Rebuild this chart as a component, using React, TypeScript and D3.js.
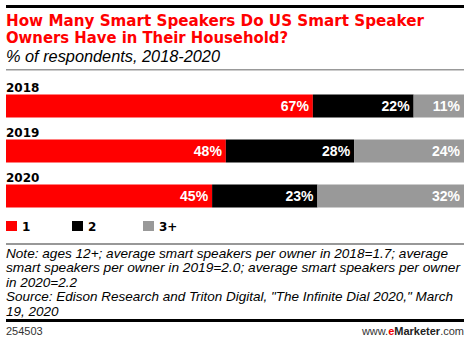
import React from "react";
import * as d3 from "d3";

const years = ["2018", "2019", "2020"];
const seriesNames = ["1", "2", "3+"];
const seriesColors = ["#ff0000", "#000000", "#999999"];
const one = [67, 48, 45];
const two = [22, 28, 23];
const threePlus = [11, 24, 32];

const title1 = "How Many Smart Speakers Do US Smart Speaker";
const title2 = "Owners Have in Their Household?";
const subtitle = "% of respondents, 2018-2020";
const noteLines = [
  "Note: ages 12+; average smart speakers per owner in 2018=1.7; average",
  "smart speakers per owner in 2019=2.0; average smart speakers per owner",
  "in 2020=2.2",
  "Source: Edison Research and Triton Digital, \"The Infinite Dial 2020,\" March",
  "19, 2020",
];
const noteWidths = [442, 454, 0, 447, 0];

export default function App() {
  const W = 470, H = 342;
  const left = 6, right = 464;
  const x = d3.scaleLinear().domain([0, 100]).range([left, right]);
  const y = d3.scaleBand().domain(years).range([79, 214]).paddingInner(0).paddingOuter(0);
  const rows = years.map((yr, i) => ({ year: yr, "1": one[i], "2": two[i], "3+": threePlus[i] }));
  const stack = d3.stack<any>().keys(seriesNames)(rows);
  const font = "Arial, 'Liberation Sans', sans-serif";
  const verdana = "Verdana, 'DejaVu Sans', sans-serif";
  const barH = 23;
  const legendX = [6, 72, 143];

  return (
    <svg width={W} height={H} style={{ position: "absolute", left: 0, top: 0 }} fontFamily={font}>
      <rect x={0} y={0} width={W} height={H} fill="#fff" />
      <rect x={6} y={5} width={458} height={3} fill="#000" />
      <text x={6} y={26} fill="#ff0000" fontWeight="bold" fontSize={15.5} fontFamily={verdana} textLength={418} lengthAdjust="spacingAndGlyphs">{title1}</text>
      <text x={6} y={43} fill="#ff0000" fontWeight="bold" fontSize={15.5} fontFamily={verdana} textLength={282} lengthAdjust="spacingAndGlyphs">{title2}</text>
      <text x={6} y={62} fill="#000" fontStyle="italic" fontSize={16} textLength={214} lengthAdjust="spacingAndGlyphs">{subtitle}</text>
      <rect x={6} y={69} width={458} height={1.5} fill="#999" />

      {years.map((yr) => (
        <text key={yr} x={6} y={(y(yr) as number) + 13} fontWeight="bold" fontSize={12} fontFamily={verdana}>{yr}</text>
      ))}
      {stack.map((layer, si) => (
        <g key={layer.key}>
          {layer.map((d, i) => {
            const by = (y(years[i]) as number) + 15.5;
            const x0 = x(d[0]);
            const x1 = x(d[1]);
            return (
              <g key={i}>
                <rect x={x0} y={by} width={x1 - x0} height={barH} fill={seriesColors[si]} />
                <text x={x1 - 4} y={by + 16.5} textAnchor="end" fill="#fff" fontWeight="bold" fontSize={14}>{d[1] - d[0]}%</text>
              </g>
            );
          })}
        </g>
      ))}

      {seriesNames.map((s, i) => (
        <g key={s}>
          <rect x={legendX[i]} y={221} width={11} height={10} fill={seriesColors[i]} />
          <text x={legendX[i] + 16} y={231} fontWeight="bold" fontSize={12} fontFamily={verdana}>{s}</text>
        </g>
      ))}

      <rect x={6} y={243.5} width={458} height={1} fill="#333" />
      {noteLines.map((l, i) => (
        <text key={i} x={6} y={258 + i * 14.4} fontStyle="italic" fontSize={13.5}
          {...(noteWidths[i] ? { textLength: noteWidths[i], lengthAdjust: "spacingAndGlyphs" } : {})}>{l}</text>
      ))}
      <rect x={6} y={319} width={458} height={3} fill="#000" />
      <text x={6} y={335} fontSize={11} fill="#333">254503</text>
      <text x={464} y={335} fontSize={11} textAnchor="end" fill="#333">www.<tspan fill="#e00" fontWeight="bold">e</tspan><tspan fontWeight="bold" fill="#222">Marketer</tspan>.com</text>
    </svg>
  );
}
